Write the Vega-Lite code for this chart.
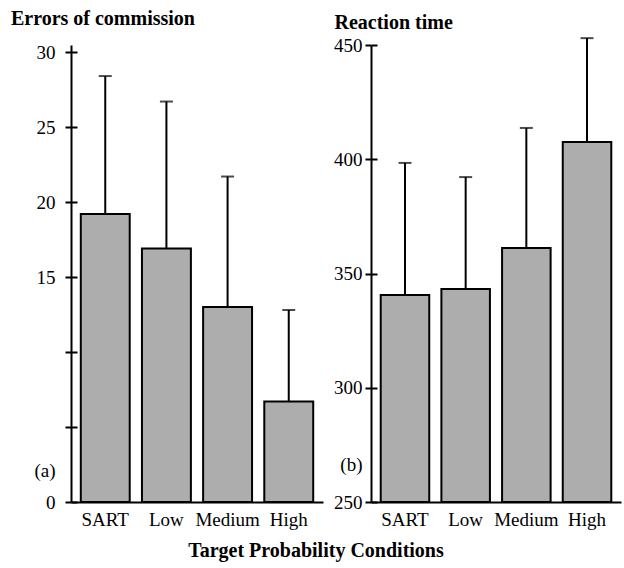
{
  "$schema": "https://vega.github.io/schema/vega-lite/v6.json",
  "padding": {"left": 10, "top": 9, "right": 4, "bottom": 8},
  "config": {
    "font": "Liberation Serif",
    "view": {"stroke": null},
    "axis": {
      "domainColor": "black", "domainWidth": 2, "tickColor": "black", "tickWidth": 2,
      "labelColor": "black", "labelFont": "Liberation Serif", "labelFontSize": 19,
      "grid": false, "title": null
    },
    "title": {"font": "Liberation Serif", "fontSize": 20, "fontWeight": "bold", "color": "black"}
  },
  "title": {"text": "Target Probability Conditions", "orient": "bottom", "anchor": "middle", "offset": 12},
  "spacing": 10,
  "hconcat": [
    {
      "width": 252, "height": 457,
      "title": {"text": "Errors of commission", "anchor": "start", "frame": "bounds", "dx": -23, "offset": 14},
      "data": {"values": [
        {"cond": "SART", "mean": 19.2, "upper": 28.4},
        {"cond": "Low", "mean": 16.9, "upper": 26.7},
        {"cond": "Medium", "mean": 13.0, "upper": 21.7},
        {"cond": "High", "mean": 6.7, "upper": 12.8}
      ]},
      "encoding": {
        "x": {"field": "cond", "type": "nominal", "sort": null,
              "scale": {"paddingInner": 0.2, "paddingOuter": 0.16},
              "axis": {"labelAngle": 0, "ticks": false, "labelPadding": 8}}
      },
      "resolve": {"scale": {"y": "independent"}, "axis": {"y": "independent"}},
      "layer": [
        {
          "layer": [
            {"mark": {"type": "rule", "strokeWidth": 2, "color": "black"},
             "encoding": {"y": {"field": "mean", "type": "quantitative",
                "scale": {"domain": [0, 30.47], "nice": false},
                "axis": {"orient": "left", "values": [0, 5, 10, 15, 20, 25, 30], "tickSize": -6, "labels": false, "domain": false}},
                "y2": {"field": "upper"}}},
            {"mark": {"type": "tick", "thickness": 2, "size": 13, "color": "black"},
             "encoding": {"y": {"field": "upper", "type": "quantitative"}}}
          ]
        },
        {"mark": {"type": "bar", "fill": "#adadad", "stroke": "black", "strokeWidth": 2},
         "encoding": {"y": {"field": "mean", "type": "quantitative",
            "scale": {"domain": [0, 30.47], "nice": false},
            "axis": {"orient": "left", "values": [0, 2.1, 5, 10, 15, 20, 25, 30], "tickSize": 6, "labelPadding": 10,
                     "labelExpr": "datum.value == 5 || datum.value == 10 ? '' : (datum.value > 2 && datum.value < 3 ? '(a)' : datum.label)",
                     "tickColor": {"condition": {"test": "datum.value > 2 && datum.value < 3", "value": "transparent"}, "value": "black"}}}}}
      ]
    },
    {
      "width": 250, "height": 457,
      "title": {"text": "Reaction time", "anchor": "start", "frame": "bounds", "dx": 1, "offset": 3},
      "data": {"values": [
        {"cond": "SART", "mean": 340.6, "upper": 398.4},
        {"cond": "Low", "mean": 343.2, "upper": 392.2},
        {"cond": "Medium", "mean": 361.2, "upper": 413.7},
        {"cond": "High", "mean": 407.5, "upper": 453.0}
      ]},
      "encoding": {
        "x": {"field": "cond", "type": "nominal", "sort": null,
              "scale": {"paddingInner": 0.2, "paddingOuter": 0.16},
              "axis": {"labelAngle": 0, "ticks": false, "labelPadding": 8}}
      },
      "resolve": {"scale": {"y": "independent"}, "axis": {"y": "independent"}},
      "layer": [
        {
          "layer": [
            {"mark": {"type": "rule", "strokeWidth": 2, "color": "black"},
             "encoding": {"y": {"field": "mean", "type": "quantitative",
                "scale": {"domain": [250, 450], "nice": false, "zero": false},
                "axis": {"orient": "left", "values": [250, 300, 350, 400, 450], "tickSize": -6, "labels": false, "domain": false}},
                "y2": {"field": "upper"}}},
            {"mark": {"type": "tick", "thickness": 2, "size": 13, "color": "black"},
             "encoding": {"y": {"field": "upper", "type": "quantitative"}}}
          ]
        },
        {"mark": {"type": "bar", "fill": "#adadad", "stroke": "black", "strokeWidth": 2},
         "encoding": {"y": {"field": "mean", "type": "quantitative",
            "scale": {"domain": [250, 450], "nice": false, "zero": false},
            "axis": {"orient": "left", "values": [250, 266.6, 300, 350, 400, 450], "tickSize": 6, "labelPadding": 3,
                     "labelExpr": "datum.value > 260 && datum.value < 270 ? '(b)' : datum.label",
                     "tickColor": {"condition": {"test": "datum.value > 260 && datum.value < 270", "value": "transparent"}, "value": "black"}}},
            "y2": {"datum": 250}}}
      ]
    }
  ]
}
